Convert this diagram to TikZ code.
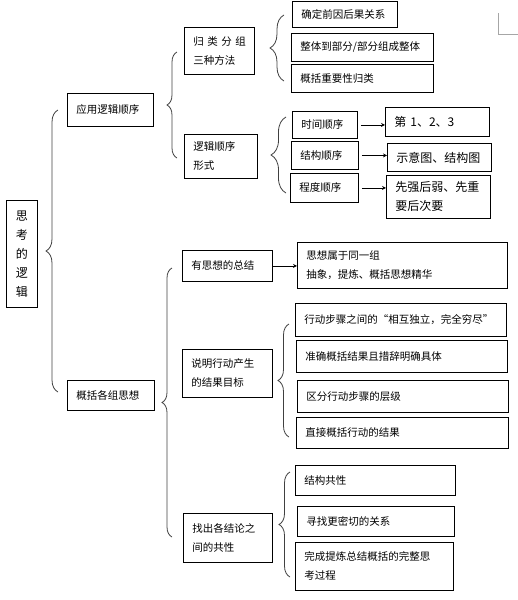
\documentclass[tikz,border=0pt]{standalone}
\usepackage{fontspec}
\setmainfont{Noto Sans CJK SC}
\usetikzlibrary{arrows.meta,decorations.pathreplacing}

\begin{document}
\begin{tikzpicture}[x=1pt, y=-1pt,
  box/.style={draw, line width=0.8pt, anchor=north west, align=left, inner xsep=9pt, inner ysep=2pt, font=\fontsize{10.5}{19}\selectfont},
  big/.style={font=\fontsize{12}{19}\selectfont},
  brc/.style={decorate, decoration={brace, amplitude=#1}, line width=0.8pt, draw=black!75},
  arr/.style={-{Stealth[length=4pt, width=4pt]}, line width=0.8pt}]
  \useasboundingbox (0,0) rectangle (518,600);

  % Nodes
  \node[box, big, align=center, text width=13pt, minimum height=107] (logic) at (6,200) {思\\考\\的\\逻\\辑};

  \node[box, text width=68pt, minimum height=33] (yy) at (67,93) {应用逻辑顺序};
  \node[box, text width=69pt, minimum height=30] (gk) at (67,380) {概括各组思想};

  \node[box, text width=52pt, minimum height=47] (gl) at (184,27) {归~类~分~组\\三种方法};
  \node[box, text width=55pt, minimum height=44] (lx) at (184,134) {逻辑顺序\\形式};

  \node[box, text width=87pt, minimum height=26] (c1) at (292,1) {确定前因后果关系};
  \node[box, text width=124pt, minimum height=28] (c2) at (291,33) {整体到部分/部分组成整体};
  \node[box, text width=124pt, minimum height=28] (c3) at (291,64) {概括重要性归类};

  \node[box, text width=47pt, minimum height=27] (t1) at (292,111) {时间顺序};
  \node[box, text width=49pt, minimum height=28] (t2) at (291,141) {结构顺序};
  \node[box, text width=50pt, minimum height=29] (t3) at (290,173) {程度顺序};

  \node[box, big, text width=86pt, minimum height=29] (d1) at (385,107) {第 1、2、3};
  \node[box, big, text width=86pt, minimum height=28] (d2) at (387,143) {示意图、结构图};
  \node[box, big, text width=86pt, minimum height=43] (d3) at (386,175) {先强后弱、先重\\要后次要};

  \node[box, text width=72pt, minimum height=31] (yz) at (182,250) {有思想的总结};
  \node[box, text width=72pt, minimum height=48] (sm) at (182,349) {说明行动产生\\的结果目标};
  \node[box, text width=71pt, minimum height=49] (zc) at (183,513) {找出各结论之\\间的共性};

  \node[box, text width=192pt, minimum height=46] (s1) at (297,242) {思想属于同一组\\抽象，提炼、概括思想精华};

  \node[box, text width=193pt, minimum height=33] (m1) at (295,303) {行动步骤之间的“相互独立，完全穷尽”};
  \node[box, text width=193pt, minimum height=32] (m2) at (296,340) {准确概括结果且措辞明确具体};
  \node[box, text width=193pt, minimum height=32] (m3) at (297,380) {区分行动步骤的层级};
  \node[box, text width=194pt, minimum height=31] (m4) at (296,417) {直接概括行动的结果};

  \node[box, text width=142pt, minimum height=30] (n1) at (295,465) {结构共性};
  \node[box, text width=139pt, minimum height=30] (n2) at (297,506) {寻找更密切的关系};
  \node[box, text width=140pt, minimum height=48] (n3) at (295,542) {完成提炼总结概括的完整思\\考过程};

  % Braces
  \draw[brc=12pt] (58,392) -- (58,110);
  \draw[brc=10pt] (177,158) -- (177,52);
  \draw[brc=10pt] (172,537) -- (172,268);
  \draw[brc=14pt] (284,81) -- (284,15);
  \draw[brc=15pt] (286,193) -- (286,117);
  \draw[brc=11pt] (289,437) -- (289,324);
  \draw[brc=11pt] (290,577) -- (290,472);

  % Arrows
  \draw[arr] ([xshift=3pt]t1.east) -- (t1.east -| d1.west);
  \draw[arr] ([xshift=3pt]t2.east) -- (t2.east -| d2.west);
  \draw[arr] ([xshift=3pt]t3.east) -- (t3.east -| d3.west);
  \draw[arr] (yz.east) -- (yz.east -| s1.west);

  % page corner
  \draw[black!35, line width=0.6pt] (498,13) -- (498,34) -- (518,34);
\end{tikzpicture}
\end{document}
